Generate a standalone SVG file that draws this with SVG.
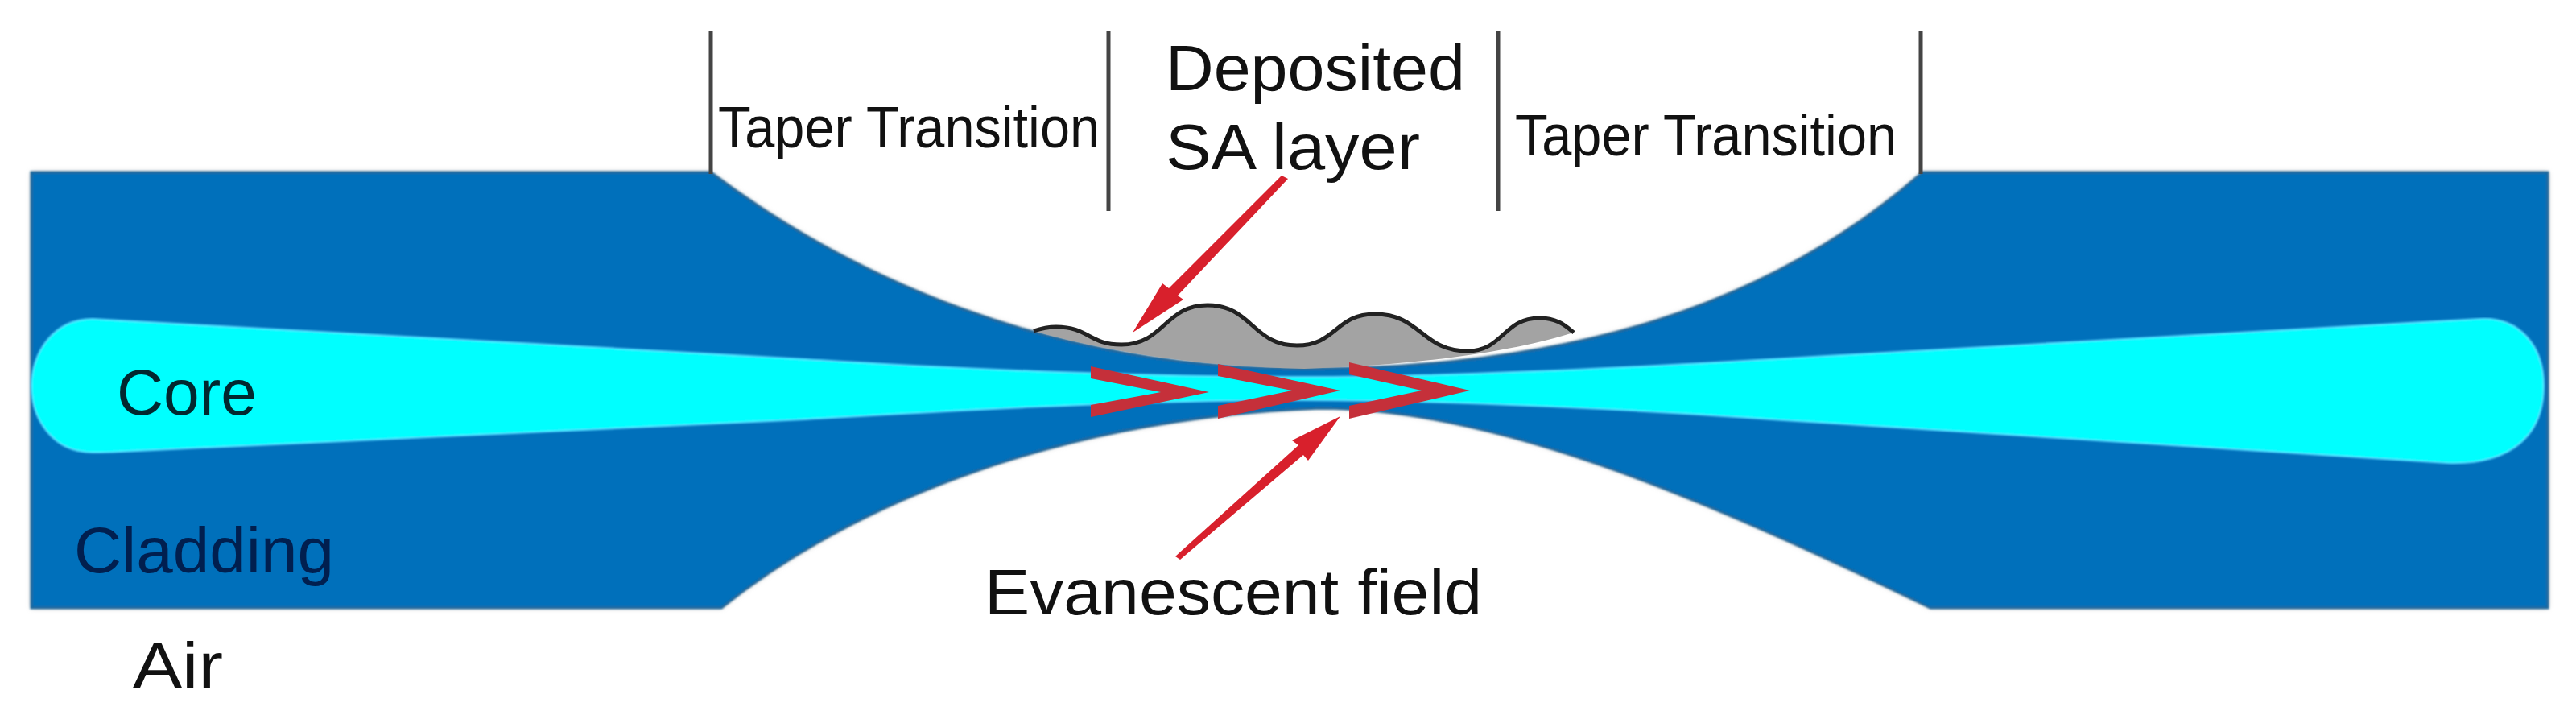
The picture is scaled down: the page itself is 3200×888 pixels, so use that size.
<svg xmlns="http://www.w3.org/2000/svg" xmlns:xlink="http://www.w3.org/1999/xlink" width="3200" height="888" viewBox="0 0 3200 888">
<style>
text{font-family:"Liberation Sans","Noto Sans",sans-serif;font-size:80px;fill:#111}
.tt{font-size:72px}
.div{stroke:#444;stroke-width:5;fill:none}
.arrow{fill:#d8202c}
.chev{fill:#c5303a}
</style>
<defs>
<filter id="soft" x="-5%" y="-10%" width="110%" height="120%"><feGaussianBlur stdDeviation="3"/></filter>
<filter id="s1" x="-1%" y="-1%" width="102%" height="102%"><feGaussianBlur stdDeviation="0.9"/></filter>
<path id="bodyShape" d="M39 214H883C1050 340 1300 458 1620 458C1950 458 2200 380 2388 214H3165V755H2398C2100 610 1850 507 1640 507C1290 520 1040 640 896 755H39Z"/>
<path id="wave" d="M1284 411C1293 408 1302 406 1312 406C1352 406 1353 428 1393 428C1446 428 1447 379 1500 379C1555 379 1556 429 1611 429C1660 429 1659 390 1708 390C1765 390 1766 436 1823 436C1867 436 1868 395 1912 395C1935 395 1945 405 1955 413"/>
</defs>
<rect width="3200" height="888" fill="#fff"/>
<g id="cladding">
<use xlink:href="#bodyShape" href="#bodyShape" fill="#b5b5b5" filter="url(#soft)"/>
<use xlink:href="#bodyShape" href="#bodyShape" fill="#0070bb" stroke="#24689a" stroke-width="3" filter="url(#s1)"/>
</g>
<g id="core">
<path d="M115 396C65 396 39 440 39 479C39 520 65 562 115 562C120 562 130 562 150 561L1000 521C1150 512 1400 497 1617 497C1800 497 2050 510 2200 521L3040 575C3120 578 3160 540 3160 479C3160 430 3130 393 3080 396L2200 446C2050 455 1800 468 1617 468C1400 468 1150 456 1000 446Z" fill="#00ffff" stroke="#55d8ff" stroke-width="2" filter="url(#s1)"/>
</g>
<g id="sa-layer">
<path d="M1284 411C1293 408 1302 406 1312 406C1352 406 1353 428 1393 428C1446 428 1447 379 1500 379C1555 379 1556 429 1611 429C1660 429 1659 390 1708 390C1765 390 1766 436 1823 436C1867 436 1868 395 1912 395C1935 395 1945 405 1955 413C1900 430 1800 452 1620 458C1500 456 1380 438 1284 411Z" fill="#a3a3a3"/>
<use xlink:href="#wave" href="#wave" fill="none" stroke="#222" stroke-width="5"/>
</g>
<g id="evanescent-field">
<polygon class="chev" points="1355,455 1502,487 1355,518 1355,503 1442,487 1355,470"/>
<polygon class="chev" points="1513,452 1665,485 1513,520 1513,504 1605,485 1513,467"/>
<polygon class="chev" points="1676,450 1826,485 1676,520 1676,504 1766,485 1676,465"/>
</g>
<g id="dividers">
<line class="div" x1="883" y1="39" x2="883" y2="216"/>
<line class="div" x1="1377" y1="39" x2="1377" y2="262"/>
<line class="div" x1="1861" y1="39" x2="1861" y2="262"/>
<line class="div" x1="2386" y1="39" x2="2386" y2="216"/>
</g>
<g id="connectors">
<polygon class="arrow" points="1407,413 1444,352 1452,358 1592,218 1600,222 1463,367 1470,372"/>
<polygon class="arrow" points="1665,517 1605,547 1613,553 1460,691 1466,695 1619,565 1625,572"/>
</g>
<g id="labels">
<text class="tt" x="892" y="183" textLength="474" lengthAdjust="spacingAndGlyphs">Taper Transition</text>
<text class="tt" x="1882" y="193" textLength="474" lengthAdjust="spacingAndGlyphs">Taper Transition</text>
<text x="1448" y="112" textLength="372" lengthAdjust="spacingAndGlyphs">Deposited</text>
<text x="1448" y="210" textLength="316" lengthAdjust="spacingAndGlyphs">SA layer</text>
<text x="1223" y="763" textLength="618" lengthAdjust="spacingAndGlyphs">Evanescent field</text>
<text x="145" y="515" textLength="174" lengthAdjust="spacingAndGlyphs" style="fill:#02282f">Core</text>
<text x="92" y="711" textLength="323" lengthAdjust="spacingAndGlyphs" style="fill:#011f4f">Cladding</text>
<text x="165" y="854" textLength="112" lengthAdjust="spacingAndGlyphs">Air</text>
</g>
</svg>
